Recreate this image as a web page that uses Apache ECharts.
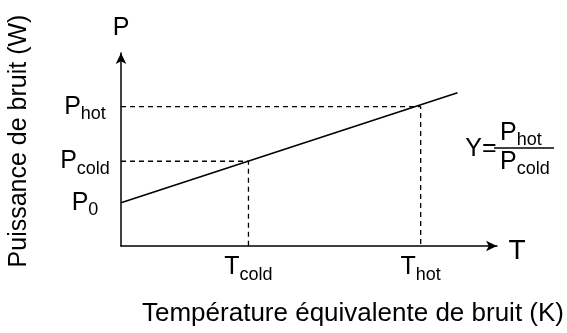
<!DOCTYPE html>
<html><head><meta charset="utf-8">
<script src="https://cdn.jsdelivr.net/npm/echarts@6/dist/echarts.min.js"></script>
<style>html,body{margin:0;padding:0;background:#fff}#c{width:567px;height:333px}</style>
</head><body><div id="c"></div>
<script>
// Axis extents (arbitrary units)
const tRange = [0, 100];
const pRange = [0, 100];
// Reference temperatures marked on the T axis
const tPoints = [33.9, 79.7];
const tLabels = ['{m|T}{s|cold}', '{m|T}{s|hot}'];
// Noise powers marked on the P axis
const pPoints = [22.4, 43.9, 72.2];
const pLabels = ['{m|P}{s|0}', '{m|P}{s|cold}', '{m|P}{s|hot}'];
// Measured noise power vs. equivalent temperature
const lineT = [0, 89.5];
const lineP = [22.4, 79.4];

const FONT = 'Liberation Sans, Arial, sans-serif';
const rich = {
  m: { fontSize: 25, fontFamily: FONT, color: '#000' },
  s: { fontSize: 18, fontFamily: FONT, color: '#000', padding: [15, 0, 0, 0] }
};
const dash = { color: '#000', width: 1.3, type: [5, 4] };
const txt = (x, y, text, size, extra) => Object.assign({
  type: 'text', x: x, y: y,
  style: { text: text, font: size + 'px ' + FONT, fill: '#000', align: 'center', verticalAlign: 'middle' }
}, extra || {});

const chart = echarts.init(document.getElementById('c'), null, { renderer: 'canvas' });
chart.setOption({
  animation: false,
  grid: { left: 121, right: 70, top: 53, bottom: 87 },
  xAxis: {
    type: 'value', min: tRange[0], max: tRange[1],
    axisLine: { symbol: ['none', 'arrow'], symbolSize: [8, 11], lineStyle: { color: '#000', width: 1.5 } },
    axisTick: { show: false },
    splitLine: { show: false },
    axisLabel: {
      customValues: tPoints, margin: 5, rich: rich,
      formatter: v => tLabels[tPoints.indexOf(v)]
    }
  },
  yAxis: {
    type: 'value', min: pRange[0], max: pRange[1],
    axisLine: { symbol: ['none', 'arrow'], symbolSize: [8, 11], lineStyle: { color: '#000', width: 1.5 } },
    axisTick: { show: false },
    splitLine: { show: false },
    axisLabel: {
      customValues: pPoints, margin: 36, align: 'center', rich: rich,
      formatter: v => pLabels[pPoints.indexOf(v)]
    }
  },
  graphic: [
    // axis symbols at the arrow ends
    txt(121, 28, 'P', 25),
    txt(517, 251, 'T', 28),
    // axis titles
    txt(19, 141, 'Puissance de bruit (W)', 25, { rotation: Math.PI / 2 }),
    txt(353, 314, 'Température équivalente de bruit (K)', 26),
    // Y-factor formula
    txt(481, 149, 'Y=', 25),
    { type: 'text', x: 500, y: 133,
      style: { text: '{m|P}{s|hot}', rich: rich, align: 'left', verticalAlign: 'middle' } },
    { type: 'line', shape: { x1: 494, y1: 148, x2: 554, y2: 148 }, style: { stroke: '#000', lineWidth: 1.3 } },
    { type: 'text', x: 500, y: 162,
      style: { text: '{m|P}{s|cold}', rich: rich, align: 'left', verticalAlign: 'middle' } }
  ],
  series: [
    { type: 'line', symbol: 'none', silent: true,
      data: lineT.map((t, i) => [t, lineP[i]]),
      lineStyle: { color: '#000', width: 1.6 } },
    { type: 'line', symbol: 'none', silent: true,
      data: [[tRange[0], pPoints[1]], [tPoints[0], pPoints[1]], [tPoints[0], pRange[0]]],
      lineStyle: dash },
    { type: 'line', symbol: 'none', silent: true,
      data: [[tRange[0], pPoints[2]], [tPoints[1], pPoints[2]], [tPoints[1], pRange[0]]],
      lineStyle: dash }
  ]
});
</script>
</body></html>
